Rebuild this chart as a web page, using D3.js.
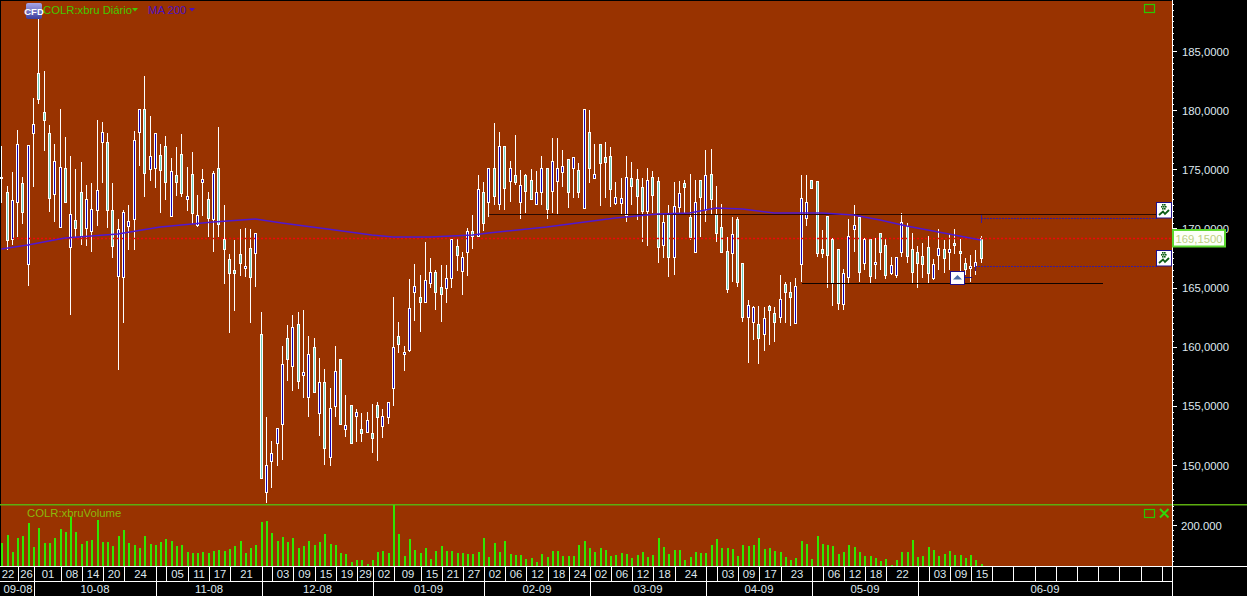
<!DOCTYPE html>
<html><head><meta charset="utf-8">
<style>html,body{margin:0;padding:0;background:#000;overflow:hidden}svg{display:block}text{font-family:"Liberation Sans",Arial,sans-serif;font-size:11.3px}</style>
<script src="https://cdnjs.cloudflare.com/ajax/libs/d3/7.8.5/d3.min.js"></script>
</head><body><svg id="c" width="1247" height="596"></svg>
<script>
const highs=[176.97,173.59,174.77,178.32,174.35,177.05,181.03,189.06,183.31,178.74,177.14,180.10,177.73,176.12,175.02,175.62,173.67,173.84,179.17,179.00,178.07,173.84,170.80,171.56,171.98,178.24,180.10,182.89,179.50,178.07,177.14,177.81,175.95,176.88,177.98,175.19,176.46,172.83,175.02,173.08,174.86,178.57,171.98,167.84,169.02,169.95,170.04,169.95,169.61,162.94,154.06,152.03,153.13,160.06,161.84,162.68,162.94,163.11,160.91,160.74,159.05,158.12,156.51,160.06,158.96,155.92,155.07,154.74,154.40,154.48,155.16,155.33,154.74,155.33,164.20,162.09,160.06,165.72,166.99,166.06,168.85,167.50,166.49,166.91,166.91,169.11,169.11,168.01,170.04,171.14,174.52,173.93,175.11,178.91,178.15,176.97,175.70,177.90,174.94,174.60,175.02,174.86,176.12,175.11,177.65,177.65,176.63,175.87,176.04,175.53,180.10,180.01,177.14,177.14,177.31,176.88,173.93,174.26,176.12,175.62,175.02,174.26,175.11,174.86,174.35,171.14,171.98,173.93,174.01,174.10,174.60,174.10,174.10,176.63,176.72,173.59,172.07,169.28,170.97,170.97,167.08,163.95,163.44,163.44,163.36,163.53,163.36,166.06,165.47,165.47,165.81,174.52,174.52,174.10,174.01,169.87,171.05,169.19,168.26,166.57,170.80,171.98,170.97,169.19,169.11,169.19,169.61,169.19,167.58,167.58,171.30,170.46,169.61,168.51,168.77,169.36,167.42,169.95,169.02,169.53,169.95,169.11,167.50,167.75,168.18,169.36];
const lows=[172.15,168.18,168.60,169.28,170.38,165.13,173.50,180.52,176.55,171.39,170.54,170.12,172.15,162.68,169.19,168.60,168.51,168.01,170.21,173.84,170.04,167.50,158.03,162.01,168.18,168.18,175.28,172.66,174.01,173.42,171.30,172.40,171.05,172.74,172.66,171.47,170.38,170.12,171.05,169.28,168.01,169.28,165.30,161.16,163.02,165.98,165.89,162.01,165.05,148.91,146.79,148.06,149.92,150.43,157.10,156.26,156.43,155.67,154.06,156.17,152.45,150.00,149.92,154.06,153.47,152.37,151.86,151.95,151.95,152.79,151.02,150.34,152.29,153.47,154.99,159.47,157.95,159.56,162.18,161.25,163.78,164.97,163.11,162.09,163.70,164.97,166.40,164.37,165.98,168.26,169.28,169.78,170.97,171.98,171.56,171.56,172.23,173.67,170.80,171.30,172.40,172.07,171.98,170.80,171.30,171.22,173.50,171.73,172.57,172.57,171.73,173.84,174.26,171.90,172.57,171.81,171.98,171.14,170.54,171.98,170.71,168.85,168.51,171.30,167.08,167.50,165.89,166.06,171.30,171.30,169.02,168.01,169.28,170.54,171.14,168.85,168.01,164.54,165.47,165.05,162.09,158.62,160.57,158.54,159.64,160.15,160.40,162.01,162.01,161.75,162.01,165.47,170.21,173.42,167.58,167.50,164.97,163.44,163.11,163.11,165.39,168.01,165.47,166.49,165.30,165.72,166.49,165.72,166.06,165.81,167.58,167.08,165.39,164.97,165.81,165.39,165.64,166.49,166.23,166.49,167.84,165.81,166.06,165.47,166.06,167.08];
const opens=[174.26,169.02,172.40,177.14,171.39,177.05,178.83,180.94,179.17,172.57,175.70,175.19,172.23,171.22,170.04,169.36,172.49,171.64,173.25,178.15,171.56,168.51,169.95,171.39,170.63,177.48,180.10,174.69,176.12,178.07,174.94,173.93,174.86,173.93,172.99,172.74,171.30,171.14,174.18,170.88,174.69,170.38,168.26,166.23,166.23,167.08,166.82,165.89,169.61,148.91,150.00,151.02,153.13,158.54,158.96,161.67,157.10,157.86,159.39,156.17,157.02,151.44,154.82,157.95,153.47,153.38,151.86,154.48,152.71,153.81,152.29,154.06,154.14,155.33,159.98,160.23,159.56,163.27,165.13,163.78,165.64,166.32,164.63,164.46,165.81,169.11,167.75,167.58,169.78,169.36,173.33,170.46,175.11,172.74,176.97,173.42,175.11,173.93,173.67,173.16,172.49,173.08,175.11,171.64,175.70,175.11,175.28,173.08,176.04,173.08,180.10,175.11,174.60,175.53,175.62,173.33,172.66,172.57,174.35,173.59,172.74,171.47,174.10,172.83,168.43,170.54,167.58,171.90,172.99,173.50,169.28,172.23,172.66,174.52,172.49,169.61,168.01,164.88,169.53,165.47,162.51,163.53,163.36,160.74,162.43,163.11,162.09,164.04,164.63,164.20,165.13,172.57,172.23,173.42,167.92,167.92,167.75,165.39,163.70,166.23,169.36,170.29,166.32,169.11,165.98,167.16,168.01,166.06,166.91,167.58,170.54,167.67,166.32,167.08,166.99,166.23,166.99,168.35,167.50,168.26,168.60,167.92,166.57,166.82,167.16,167.50];
const closes=[174.35,173.08,169.11,172.23,173.84,166.99,178.07,183.14,179.84,178.07,172.91,170.12,175.11,168.43,170.71,173.08,170.04,169.78,171.56,177.31,177.31,171.56,165.98,165.89,170.21,170.80,178.15,180.10,175.02,175.11,176.21,176.97,171.05,174.52,176.29,172.49,174.60,170.29,173.93,172.49,170.80,175.11,169.11,167.42,166.49,167.84,166.65,168.35,167.92,161.08,147.72,150.34,151.86,153.47,160.74,158.37,161.92,157.61,155.75,159.98,154.40,157.02,150.68,154.99,158.96,153.05,155.07,154.14,153.05,152.79,152.71,155.07,153.30,154.06,156.51,160.91,159.39,159.72,164.63,164.20,163.78,165.39,166.32,165.05,164.97,165.81,168.51,166.40,168.01,169.78,169.36,173.08,172.23,175.11,172.07,176.97,174.01,174.52,172.23,174.52,174.10,172.07,173.08,175.11,173.16,174.01,174.77,175.87,175.11,174.94,171.73,178.15,174.26,177.14,176.04,176.12,172.15,172.15,171.14,174.26,174.18,173.50,171.47,174.35,174.01,168.60,171.30,167.58,171.81,173.84,170.97,168.01,174.10,171.56,174.60,171.22,170.12,168.09,167.92,170.80,167.08,162.51,162.09,161.92,161.08,163.44,162.85,162.51,165.30,164.63,162.01,166.99,170.88,174.10,174.01,168.26,171.05,169.11,168.26,163.61,165.89,169.95,170.97,167.08,169.11,166.99,169.61,168.60,166.23,166.06,168.01,170.21,168.26,168.01,167.67,168.43,165.81,167.75,168.26,168.01,168.77,168.09,167.08,166.65,166.82,169.15];
const volumes=[111,151,70,135,146,208,94,187,111,111,135,179,167,241,167,106,124,127,224,119,119,99,148,176,111,102,89,146,106,102,119,132,122,98,102,70,62,65,70,62,73,78,73,83,98,124,65,89,102,216,220,159,124,140,119,138,86,98,124,102,119,156,107,102,63,59,21,29,29,10,29,68,73,65,300,156,49,132,78,62,86,34,73,98,73,73,62,62,57,57,67,135,44,111,68,122,57,52,52,34,37,18,57,44,73,73,49,49,49,102,122,86,67,86,78,49,54,62,57,37,52,67,42,52,135,93,57,78,78,28,42,67,62,62,102,132,86,86,83,49,102,96,102,135,83,86,73,67,42,28,37,122,106,34,146,106,102,98,59,68,102,93,68,49,49,37,24,34,5,29,68,68,127,44,49,93,78,49,59,73,54,54,41,54,29,10];
const maIdx=[0,5,12,22,30,40,48,53,63,70,74,81,85,89,92,103,116,124,130,135,140,146,155,161,166,171,180,185];
const maValues=[168.26,168.60,169.19,169.53,170.12,170.54,170.80,170.46,169.87,169.45,169.28,169.28,169.36,169.45,169.61,170.12,170.88,171.22,171.30,171.73,171.64,171.30,171.30,171.14,170.71,170.21,169.45,169.02];
const priceTicks=[150,155,160,165,170,175,180,185];
const volumeTicks=[200];
const dayTickIdx=[-1,3,6,11,15,19,23,29,31,35,39,43,49,51,55,59,63,67,70,74,79,83,87,91,95,99,103,107,111,115,119,123,127,133,135,139,143,147,153,155,159,163,167,173,175,179,183,187,191,195,199,203,207,211,215,219];
const dayTickLabels=["22","26","01","08","14","20","24","","05","11","17","21","","03","09","15","19","29","02","09","15","21","27","02","06","12","18","24","02","06","12","18","24","","03","09","17","23","","06","12","18","22","","03","09","15","","","","","","","","",""];
const monthIdx=[0,6,29,49,70,91,111,133,153,173];
const monthLabels=["09-08","10-08","11-08","12-08","01-09","02-09","03-09","04-09","05-09","06-09"];
const lastPrice=169.15, resistance=171.2, support=165.35, alertHigh=170.92, alertLow=166.86;

const W=1247,H=596,R=1172,PB=505,AX=566,AX2=581;
const svg=d3.select("#c");
const x=d3.scaleLinear().domain([0,219]).range([1.3,1160.7]);
const y=d3.scaleLinear().domain([150,185]).range([465,51]);
const yv=d3.scaleLinear().domain([0,200]).range([AX,525]);
const sep=i=>Math.round(x(i)+1);
const candles=highs.map((h,i)=>({i,h,l:lows[i],o:opens[i],c:closes[i]}));
const defs=svg.append("defs");
defs.append("clipPath").attr("id","main").append("rect").attr("x",0).attr("y",0).attr("width",R).attr("height",PB);
defs.append("clipPath").attr("id","vol").append("rect").attr("x",0).attr("y",PB).attr("width",R).attr("height",AX-PB);
const grad=defs.append("linearGradient").attr("id","cfd").attr("x1",0).attr("y1",0).attr("x2",0).attr("y2",1);
grad.append("stop").attr("offset","0").attr("stop-color","#a8a8ea");
grad.append("stop").attr("offset","1").attr("stop-color","#3c3c9c");

svg.append("rect").attr("width",W).attr("height",H).attr("fill","#000");
svg.append("rect").attr("x",1).attr("y",1).attr("width",R-1).attr("height",AX-1).attr("fill","#993300");

// candles
const gc=svg.append("g").attr("clip-path","url(#main)").attr("shape-rendering","crispEdges");
const px=d=>Math.round(x(d.i));
gc.selectAll("rect.w").data(candles).join("rect").attr("class","w")
  .attr("x",d=>px(d)).attr("width",1)
  .attr("y",d=>Math.round(y(d.h))).attr("height",d=>Math.max(1,Math.round(y(d.l))-Math.round(y(d.h))))
  .attr("fill","#fff");
const bTop=d=>Math.round(y(Math.max(d.o,d.c))), bBot=d=>Math.round(y(Math.min(d.o,d.c)));
gc.selectAll("rect.b").data(candles).join("rect").attr("class","b")
  .attr("x",d=>px(d)-1).attr("width",3)
  .attr("y",bTop).attr("height",d=>Math.max(2,bBot(d)-bTop(d)+1))
  .attr("fill","#fff");
gc.selectAll("rect.f").data(candles.filter(d=>bBot(d)-bTop(d)>=2)).join("rect").attr("class","f")
  .attr("x",d=>px(d)).attr("width",1)
  .attr("y",d=>bTop(d)+1).attr("height",d=>bBot(d)-bTop(d)-1)
  .attr("fill",d=>d.c>=d.o?"#70d0c0":"#1404b8");

// horizontal drawing lines
const hline=(p,a,b,col,dash,w)=>svg.append("line").attr("x1",a).attr("x2",b).attr("y1",Math.round(y(p))+.5).attr("y2",Math.round(y(p))+.5)
  .attr("stroke",col).attr("stroke-width",w||1).attr("stroke-dasharray",dash||null);
hline(resistance,489,1157,"#2a0a00");
hline(support,802,1103,"#0c0300");
hline(lastPrice,13,R,"#f00808","2,2",1.6);
// MA
svg.append("path").datum(maIdx.map((d,i)=>[d,maValues[i]]))
  .attr("d",d3.line().x(d=>x(d[0])).y(d=>y(d[1])))
  .attr("fill","none").attr("stroke","#5018d0").attr("stroke-width",1.5);
// alert lines
const ap=svg.append("g").attr("shape-rendering","crispEdges");
[[alertHigh,981],[alertLow,975]].forEach(([p,a])=>{
  const yy=Math.round(y(p))+.5;
  ap.append("line").attr("x1",a).attr("x2",1157).attr("y1",yy).attr("y2",yy).attr("stroke","#3a1a9c").attr("stroke-dasharray","2,1");
  ap.append("line").attr("x1",a+.5).attr("x2",a+.5).attr("y1",yy-4).attr("y2",yy+4).attr("stroke","#3a1a9c");
  // marker
  const t=Math.round(y(p))-16;
  const g=svg.append("g").attr("transform",`translate(1156,${t})`);
  g.append("rect").attr("x",.5).attr("y",.5).attr("width",15).attr("height",15.5).attr("fill","#fff").attr("stroke","#20108a");
  [[6,2],[8,2],[5,4],[7,4],[9,4],[6,6],[8,6]].forEach(c=>g.append("rect").attr("x",c[0]).attr("y",c[1]).attr("width",1.6).attr("height",1.6).attr("fill","#0c5c14"));
  g.append("path").attr("d","M3,13 L7,9.5 L9,12 L13,8").attr("fill","none").attr("stroke","#0c5c14").attr("stroke-width",1.8);
});
// triangle marker
const mk=svg.append("g");
mk.append("line").attr("x1",965).attr("x2",972).attr("y1",277.5).attr("y2",277.5).attr("stroke","#20108a");
mk.append("rect").attr("x",950.5).attr("y",271.5).attr("width",14).attr("height",13).attr("fill","#fff").attr("stroke","#20108a");
mk.append("path").attr("d","M953,279.5 L957.5,275 L962,279.5 Z").attr("fill","#4a6ea8");

// panel divider
svg.append("rect").attr("x",0).attr("y",504).attr("width",W).attr("height",1.5).attr("fill","#5cae10");

// volume
svg.append("g").attr("clip-path","url(#vol)").attr("shape-rendering","crispEdges")
 .selectAll("rect").data(volumes).join("rect")
 .attr("x",(d,i)=>Math.round(x(i))).attr("width",2)
 .attr("y",d=>Math.round(yv(d))).attr("height",d=>AX-Math.round(yv(d)))
 .attr("fill","#30e800");

// headers
svg.append("rect").attr("x",26).attr("y",3).attr("width",16).attr("height",16).attr("rx",2).attr("fill","url(#cfd)");
svg.append("text").attr("x",34).attr("y",14.5).attr("text-anchor","middle").attr("fill","#fff").style("font-size","9.5px").style("font-weight","bold").text("CFD");
svg.append("text").attr("x",43).attr("y",14).attr("fill","#44c800").text("COLR:xbru Diário");
svg.append("path").attr("d","M132,8 L138,8 L135,11.5 Z").attr("fill","#44c800");
svg.append("text").attr("x",148).attr("y",14).attr("fill","#4a10c0").text("MA 200");
svg.append("path").attr("d","M189,8 L195,8 L192,11.5 Z").attr("fill","#4a10c0");
svg.append("text").attr("x",27).attr("y",517).attr("fill","#8cb80a").text("COLR:xbruVolume");

// window buttons
const btn=(yy)=>svg.append("rect").attr("x",1144.5).attr("y",yy).attr("width",10).attr("height",8).attr("fill","none").attr("stroke","#2ac800").attr("stroke-width",1.2);
btn(4.5);btn(509.5);
svg.append("path").attr("d","M1160,509 L1168.5,517.5 M1168.5,509 L1160,517.5").attr("stroke","#2fd80a").attr("stroke-width",2).attr("fill","none");

// right axis
const ax=svg.append("g").attr("shape-rendering","crispEdges");
ax.append("line").attr("x1",R+.5).attr("x2",R+.5).attr("y1",0).attr("y2",H).attr("stroke","#fff").attr("stroke-width",1);
const minor=d3.range(146.5,189.5,.5);
ax.selectAll("line.m").data(minor).join("line").attr("class","m").attr("x1",R).attr("x2",R+2)
  .attr("y1",d=>Math.round(y(d))+.5).attr("y2",d=>Math.round(y(d))+.5).attr("stroke","#fff");
ax.selectAll("line.t").data(priceTicks).join("line").attr("class","t").attr("x1",R).attr("x2",R+5)
  .attr("y1",d=>Math.round(y(d))+.5).attr("y2",d=>Math.round(y(d))+.5).attr("stroke","#fff");
svg.selectAll("text.pt").data(priceTicks).join("text").attr("class","pt").attr("x",1182).attr("y",d=>y(d)+4.5)
  .attr("fill","#dfe8ee").text(d=>d3.format(".4f")(d).replace(".",","));
const vm=d3.range(25,300,25).filter(v=>yv(v)>PB);
ax.selectAll("line.vm").data(vm).join("line").attr("class","vm").attr("x1",R).attr("x2",R+2)
  .attr("y1",d=>Math.round(yv(d))+.5).attr("y2",d=>Math.round(yv(d))+.5).attr("stroke","#fff");
ax.selectAll("line.vt").data(volumeTicks).join("line").attr("class","vt").attr("x1",R).attr("x2",R+5)
  .attr("y1",d=>Math.round(yv(d))+.5).attr("y2",d=>Math.round(yv(d))+.5).attr("stroke","#fff");
svg.selectAll("text.vt").data(volumeTicks).join("text").attr("class","vt").attr("x",1181).attr("y",d=>yv(d)+4.5)
  .attr("fill","#dfe8ee").text(d=>d3.format(".3f")(d));

// price label
svg.append("rect").attr("x",1173).attr("y",230).attr("width",52).attr("height",16.5).attr("fill","#fcfff8").attr("stroke","#5cd830").attr("stroke-width",2);
svg.append("text").attr("x",1199).attr("y",y(lastPrice)+4.5).attr("text-anchor","middle").attr("fill","#bcd084").text(d3.format(".4f")(lastPrice).replace(".",","));

// date axis
ax.append("line").attr("x1",0).attr("x2",W).attr("y1",AX+.5).attr("y2",AX+.5).attr("stroke","#fff");
ax.append("line").attr("x1",0).attr("x2",R).attr("y1",AX2+.5).attr("y2",AX2+.5).attr("stroke","#fff");
ax.selectAll("line.d").data(dayTickIdx.filter(d=>d>0)).join("line").attr("class","d")
  .attr("x1",d=>sep(d)+.5).attr("x2",d=>sep(d)+.5).attr("y1",AX).attr("y2",AX2).attr("stroke","#fff");
ax.selectAll("line.mo").data(monthIdx.filter(d=>d>0)).join("line").attr("class","mo")
  .attr("x1",d=>sep(d)+.5).attr("x2",d=>sep(d)+.5).attr("y1",AX2).attr("y2",H).attr("stroke","#fff");
svg.selectAll("text.dl").data(dayTickLabels.slice(0,-1)).join("text").attr("class","dl")
  .attr("x",(d,i)=>{const b=i+1<dayTickIdx.length?sep(dayTickIdx[i+1]):R;return (sep(dayTickIdx[i])+b)/2+.5;})
  .attr("y",AX+12).attr("text-anchor","middle").attr("fill","#dfe8ee").text(d=>d);
svg.selectAll("text.ml").data(monthLabels).join("text").attr("class","ml")
  .attr("x",(d,i)=>{const b=i+1<monthIdx.length?sep(monthIdx[i+1]):R;return (sep(monthIdx[i])+b)/2;})
  .attr("y",AX2+12).attr("text-anchor","middle").attr("fill","#dfe8ee").text(d=>d);
</script></body></html>
